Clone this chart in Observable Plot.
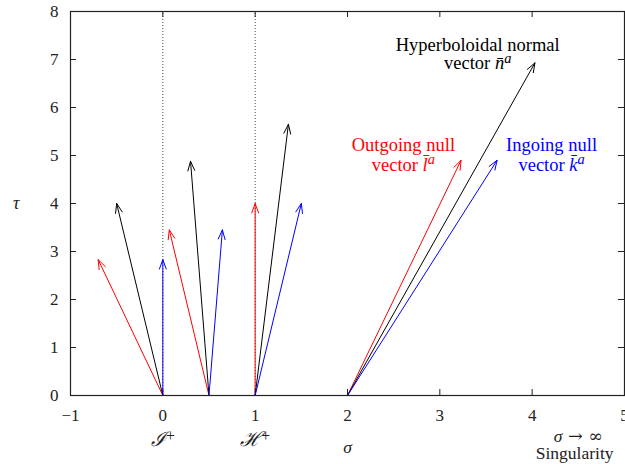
<!DOCTYPE html>
<html><head><meta charset="utf-8">
<script src="https://cdn.jsdelivr.net/npm/d3@7"></script>
<script src="https://cdn.jsdelivr.net/npm/@observablehq/plot@0.6"></script>
<style>body{margin:0;background:#fff} svg text{font-family:"Liberation Serif","DejaVu Serif",serif}</style>
</head><body><div id="chart"></div>
<script>
// ---- data ----
const xTicks = [-1, 0, 1, 2, 3, 4, 5];
const yTicks = [0, 1, 2, 3, 4, 5, 6, 7, 8];
const guideX = [0, 1];                       // dotted lines at scri+ and H+
const arrowBaseX = [0, 0, 0, 0.5, 0.5, 0.5, 1, 1, 1, 2, 2, 2];
const arrowTipX  = [-0.7, -0.5, 0, 0.07, 0.3, 0.645, 1, 1.36, 1.5, 3.23, 4.03, 3.62];
const arrowTipY  = [2.83, 4, 2.83, 3.45, 4.88, 3.45, 4, 5.65, 4, 4.9, 6.93, 4.9];
const arrowKind  = ["out", "normal", "in", "out", "normal", "in", "out", "normal", "in", "out", "normal", "in"];
const kindColor  = {out: "#ff0000", normal: "#000000", in: "#0000ff"};

const noteText  = ["Hyperboloidal normal", "vector $n̄$^a", "Outgoing null", "vector $l̄$^a", "Ingoing null", "vector $k̄$^a"];
const noteX     = [3.41, 3.41, 2.605, 2.605, 4.21, 4.21];
const noteY     = [7.31, 6.92, 5.21, 4.81, 5.21, 4.81];
const noteKind  = ["normal", "normal", "out", "out", "in", "in"];

const belowText = ["$ℐ$^+", "$ℋ$^+", "$σ$", "$σ$ → ∞", "Singularity"];
const belowX    = [0, 1, 2, 4.5, 4.46];
const belowY    = [-0.94, -0.94, -1.09, -0.85, -1.21];

const yLabel = "τ";

// ---- build tables ----
const arrows = arrowBaseX.map((b, i) => ({x1: b, y1: 0, x2: arrowTipX[i], y2: arrowTipY[i], kind: arrowKind[i]}));
const notes = noteText.map((t, i) => ({text: t, x: noteX[i], y: noteY[i], kind: noteKind[i]}));
const below = belowText.map((t, i) => ({text: t, x: belowX[i], y: belowY[i]}));

const W = 625, H = 464, mL = 70, mR = 1, mT = 11, mB = 69;
const innerW = W - mL - mR, innerH = H - mT - mB, tk = 6;
const fmt = d => (d < 0 ? "\u2212" : "") + Math.abs(d);

const chart = Plot.plot({
  width: W, height: H,
  marginLeft: mL, marginRight: mR, marginTop: mT, marginBottom: mB,
  style: {fontSize: "17px", color: "#222", background: "#fff"},
  x: {domain: [-1, 5], ticks: xTicks, tickFormat: fmt, tickSize: 0, tickPadding: 13, label: null},
  y: {domain: [0, 8], ticks: yTicks, tickFormat: fmt, tickSize: 0, tickPadding: 12, label: null},
  marks: [
    Plot.ruleX(guideX, {x: d => d, y1: 0, y2: 8, stroke: "#333", strokeWidth: 0.9, strokeDasharray: "1,2"}),
    Plot.tickX(xTicks, {x: d => d, insetTop: innerH - tk, stroke: "#222"}),
    Plot.tickX(xTicks, {x: d => d, insetBottom: innerH - tk, stroke: "#222"}),
    Plot.tickY(yTicks, {y: d => d, insetRight: innerW - tk, stroke: "#222"}),
    Plot.tickY(yTicks, {y: d => d, insetLeft: innerW - tk, stroke: "#222"}),
    Plot.arrow(arrows, {x1: "x1", y1: "y1", x2: "x2", y2: "y2", stroke: d => kindColor[d.kind], strokeWidth: 1, headAngle: 40, headLength: 15}),
    Plot.text(notes, {x: "x", y: "y", text: "text", fill: d => kindColor[d.kind], fontSize: 18.5}),
    Plot.text(below, {x: "x", y: "y", text: "text", fill: "#222", fontSize: 17.5}),
    Plot.text([yLabel], {x: -1.587, y: 4, text: d => d, fontStyle: "italic", fontSize: 18, fill: "#222"}),
    Plot.frame({stroke: "#222", strokeWidth: 1.2})
  ]
});

// italic segments ($..$) and italic superscripts (^x)
chart.querySelectorAll("text").forEach(t => {
  t.setAttribute("font-family", "Liberation Serif, DejaVu Serif, serif");
  const s = t.textContent;
  if (!/[$^]/.test(s)) return;
  t.textContent = "";
  const re = /\$([^$]+)\$|\^(\S)|([^$^]+)/g;
  let m;
  while ((m = re.exec(s))) {
    const ts = document.createElementNS("http://www.w3.org/2000/svg", "tspan");
    if (m[1]) {
      ts.textContent = m[1]; ts.setAttribute("font-style", "italic");
      if (/[ℐℋ]/.test(m[1])) ts.setAttribute("font-size", "115%");
    } else if (m[2]) {
      ts.textContent = m[2]; if (m[2] !== "+") ts.setAttribute("font-style", "italic");
      ts.setAttribute("font-size", m[2] === "+" ? "90%" : "78%"); ts.setAttribute("dy", m[2] === "+" ? "-0.35em" : "-0.42em");
    } else {
      ts.textContent = m[3];
      if (/[→∞]/.test(m[3])) ts.setAttribute("font-family", "DejaVu Serif");
    }
    t.appendChild(ts);
  }
});

document.getElementById("chart").appendChild(chart);
</script>
</body></html>
